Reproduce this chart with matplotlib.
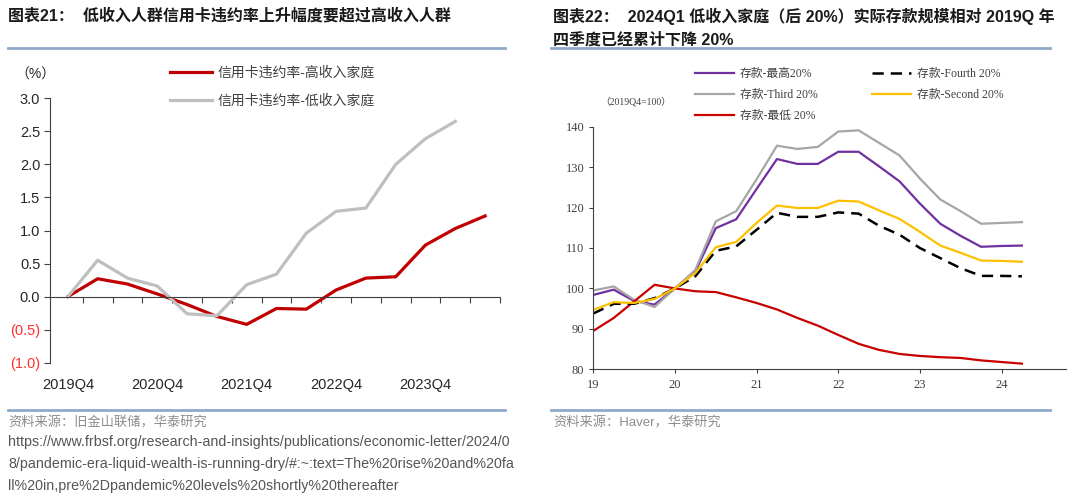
import numpy as np
import matplotlib.pyplot as plt
from matplotlib.lines import Line2D

plt.rcParams['font.family'] = ['Liberation Sans', 'Noto Sans CJK SC']

# chart 21: change in credit card delinquency rate (pp)
cc_labels = ['2019Q4', '2020Q4', '2021Q4', '2022Q4', '2023Q4']
cc_high = [0.0, 0.27, 0.19, 0.04, -0.12, -0.30, -0.42, -0.18, -0.19, 0.10, 0.28, 0.30, 0.78, 1.03, 1.22]
cc_low = [0.0, 0.55, 0.28, 0.16, -0.26, -0.29, 0.18, 0.34, 0.96, 1.29, 1.34, 2.00, 2.39, 2.65]
cc_names = ['信用卡违约率-高收入家庭', '信用卡违约率-低收入家庭']

# chart 22: real deposits, 2019Q4=100, quarterly from 2019Q1
dep_years = [19, 20, 21, 22, 23, 24]
dep_top = [98.4, 99.7, 96.9, 96.0, 100.0, 104.2, 114.9, 117.1, 124.6, 132.0, 130.8, 130.8,
           133.8, 133.8, 130.2, 126.5, 121.0, 116.0, 113.0, 110.3, 110.5, 110.6]
dep_third = [99.5, 100.5, 97.2, 95.4, 100.0, 104.6, 116.6, 119.1, 127.0, 135.3, 134.5, 135.0,
             138.8, 139.1, 136.0, 132.9, 127.2, 122.0, 119.1, 116.0, 116.2, 116.4]
dep_bottom = [89.5, 92.7, 96.8, 100.9, 100.0, 99.3, 99.1, 97.8, 96.4, 94.8, 92.7, 90.8,
              88.5, 86.3, 84.8, 83.8, 83.3, 83.0, 82.8, 82.2, 81.8, 81.4]
dep_fourth = [93.8, 96.2, 96.2, 97.6, 100.0, 103.0, 109.3, 110.4, 114.5, 118.7, 117.7, 117.7,
              118.8, 118.5, 115.5, 113.3, 110.0, 107.5, 105.0, 103.1, 103.1, 103.0]
dep_second = [94.7, 96.6, 96.4, 97.4, 100.0, 103.8, 110.2, 111.5, 116.2, 120.5, 119.9, 119.9,
              121.7, 121.5, 119.3, 117.2, 114.0, 110.6, 108.8, 106.9, 106.8, 106.6]

fig = plt.figure(figsize=(10.8, 4.99), dpi=100)

# titles, rules and sources
fig.text(8 / 1080, 1 - 16 / 499, '图表21：  低收入人群信用卡违约率上升幅度要超过高收入人群',
         fontsize=11.5, fontweight='bold', va='center', color='#1a1a1a')
fig.text(553 / 1080, 1 - 16 / 499, '图表22：  2024Q1 低收入家庭（后 20%）实际存款规模相对 2019Q 年',
         fontsize=11.5, fontweight='bold', va='center', color='#1a1a1a')
fig.text(553 / 1080, 1 - 40 / 499, '四季度已经累计下降 20%',
         fontsize=11.5, fontweight='bold', va='center', color='#1a1a1a')
rule = '#8fa9c9'
for x0, x1 in [(8, 505), (551, 1050)]:
    for yy in (48, 410):
        fig.add_artist(Line2D([x0 / 1080, x1 / 1080], [1 - yy / 499] * 2, color=rule, lw=2))

fig.text(8 / 1080, 1 - 423 / 499, '资料来源：旧金山联储，华泰研究', fontsize=9.5,
         color='#8c8c8c', va='center')
fig.text(553 / 1080, 1 - 423 / 499, '资料来源：Haver，华泰研究', fontsize=9.5,
         color='#8c8c8c', va='center')
url = ['https://www.frbsf.org/research-and-insights/publications/economic-letter/2024/0',
       '8/pandemic-era-liquid-wealth-is-running-dry/#:~:text=The%20rise%20and%20fa',
       'll%20in,pre%2Dpandemic%20levels%20shortly%20thereafter']
for i, line in enumerate(url):
    fig.text(8 / 1080, 1 - (442 + 22 * i) / 499, line, fontsize=10.25, color='#555555', va='center')

# ---- left chart
ax = fig.add_axes([50 / 1080, 1 - 362.7 / 499, 450 / 1080, 264.4 / 499])
xh = np.arange(len(cc_high))
xl = np.arange(len(cc_low))
ax.plot(xh, cc_high, color='#c00000', lw=2.3, label=cc_names[0])
ax.plot(xl, cc_low, color='#bfbfbf', lw=2.3, label=cc_names[1])
ax.set_xlim(-0.6, 14.5)
ax.set_ylim(-1.0, 3.0)
for s in ['top', 'right']:
    ax.spines[s].set_visible(False)
ax.spines['bottom'].set_position(('data', 0))
ax.spines['left'].set_color('#404040')
ax.spines['bottom'].set_color('#404040')
ax.set_xticks(np.arange(0.5, 15, 1))
ax.set_xticklabels([])
ax.tick_params(axis='x', direction='out', length=4, color='#404040')
yt = np.arange(-1.0, 3.01, 0.5)
ax.set_yticks(yt)
ax.set_yticklabels([f'({abs(v):.1f})' if v < 0 else f'{v:.1f}' for v in yt])
ax.tick_params(axis='y', direction='out', length=4, color='#404040', labelsize=10.5,
               labelcolor='#262626', pad=3)
for lab, v in zip(ax.get_yticklabels(), yt):
    if v < 0:
        lab.set_color('#ff3030')
sec = ax.secondary_xaxis(0.0)
sec.set_xticks(np.arange(0, 15, 3), cc_labels)
sec.spines['bottom'].set_visible(False)
sec.tick_params(length=0, labelsize=10.5, labelcolor='#262626', pad=11)
fig.text(35 / 1080, 1 - 75 / 499, '（%）', fontsize=10, ha='center', va='center', color='#262626')
ax.legend(loc='upper left', bbox_to_anchor=(170 / 1080, 1 - 66 / 499), bbox_transform=fig.transFigure,
          frameon=False, fontsize=10, handlelength=3.0, handletextpad=0.4, labelspacing=1.0,
          borderpad=0, borderaxespad=0, labelcolor='#404040')

# ---- right chart
serif = ['Liberation Serif', 'Noto Sans CJK SC']
bx = fig.add_axes([593.3 / 1080, 1 - 369.3 / 499, 472.7 / 1080, 242.6 / 499])
t = 19 + np.arange(len(dep_top)) / 4
bx.plot(t, dep_top, color='#7030a0', lw=1.6, label='存款-最高20%')
bx.plot(t, dep_third, color='#a6a6a6', lw=1.6, label='存款-Third 20%')
bx.plot(t, dep_bottom, color='#c80000', lw=1.6, label='存款-最低 20%')
bx.plot(t, dep_fourth, color='black', lw=1.8, ls=(0, (4.5, 2.8)), label='存款-Fourth 20%')
bx.plot(t, dep_second, color='#ffc000', lw=1.6, label='存款-Second 20%')
bx.set_xlim(19, 24.79)
bx.set_ylim(80, 140)
for s in ['top', 'right']:
    bx.spines[s].set_visible(False)
bx.spines['left'].set_color('#404040')
bx.spines['bottom'].set_color('#404040')
bx.set_xticks(dep_years)
bx.set_xticklabels([str(y) for y in dep_years], fontfamily=serif)
bx.set_yticks(np.arange(80, 141, 10))
bx.set_yticklabels([str(v) for v in range(80, 141, 10)], fontfamily=serif)
bx.tick_params(direction='out', length=3, color='#404040', labelsize=9, labelcolor='#404040')
bx.tick_params(axis='x', pad=4)
fig.text(600 / 1080, 1 - 101.7 / 499, '（2019Q4=100）', fontsize=7, family=serif,
         color='#404040', va='center')
bx.legend(loc='upper left', bbox_to_anchor=(695 / 1080, 1 - 68 / 499), bbox_transform=fig.transFigure,
          ncol=2, frameon=False, prop={'family': serif, 'size': 8.5}, handlelength=3.3,
          handletextpad=0.5, labelspacing=0.75, columnspacing=4.6, borderpad=0, borderaxespad=0,
          labelcolor='#404040')

fig.savefig('out.png', dpi=100)
